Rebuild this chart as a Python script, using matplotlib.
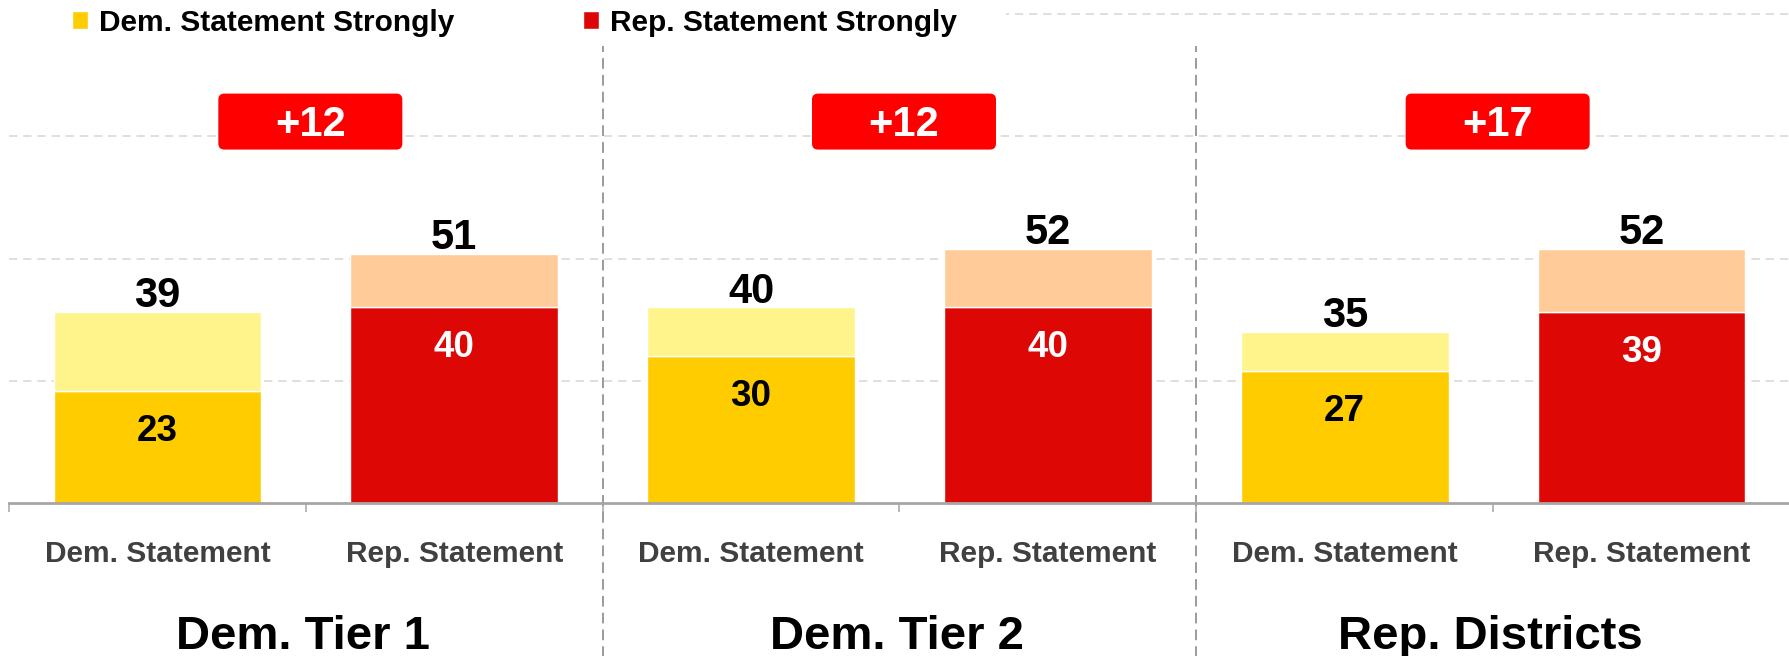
import matplotlib
matplotlib.use("Agg")
import matplotlib.pyplot as plt
import matplotlib.transforms as mtransforms
from matplotlib.patches import FancyBboxPatch, Rectangle
import numpy as np

plt.rcParams['font.family'] = ['Liberation Sans', 'DejaVu Sans']
plt.rcParams['font.weight'] = 'bold'

# ---- data ----
groups = ['Dem. Tier 1', 'Dem. Tier 2', 'Rep. Districts']
bar_labels = ['Dem. Statement', 'Rep. Statement']
dem_strong = [23, 30, 27]
dem_total = [39, 40, 35]
rep_strong = [40, 40, 39]
rep_total = [51, 52, 52]
legend_labels = ['Dem. Statement Strongly', 'Rep. Statement Strongly']
grid_values = [25, 50, 75, 100]

# ---- colours ----
c_dem_strong = '#FFCC00'
c_dem_light = '#FFF48C'
c_rep_strong = '#DD0806'
c_rep_light = '#FFCC99'
c_box = '#FF0000'
c_axis = '#A6A6A6'

W, H, DPI = 1790, 656, 100
fig = plt.figure(figsize=(W / DPI, H / DPI), dpi=DPI)
ax_left, ax_bottom_px, ax_top_px = 9, 503, 0
ax = fig.add_axes([ax_left / W, (H - ax_bottom_px) / H, (W - ax_left) / W, (ax_bottom_px - ax_top_px) / H])

px_per_unit = 4.89
ax.set_ylim(0, ax_bottom_px / px_per_unit)
ax.set_xlim(-0.5, 5.5)

n = len(groups)
x_dem = np.arange(n) * 2
x_rep = np.arange(n) * 2 + 1
bw = 0.70

dem_light = [t - s for t, s in zip(dem_total, dem_strong)]
rep_light = [t - s for t, s in zip(rep_total, rep_strong)]

b1 = ax.bar(x_dem, dem_strong, bw, color=c_dem_strong, edgecolor='white', linewidth=1, zorder=2,
            label=legend_labels[0])
ax.bar(x_dem, dem_light, bw, bottom=dem_strong, color=c_dem_light, edgecolor='white', linewidth=1, zorder=2)
b2 = ax.bar(x_rep, rep_strong, bw, color=c_rep_strong, edgecolor='white', linewidth=1, zorder=2,
            label=legend_labels[1])
ax.bar(x_rep, rep_light, bw, bottom=rep_strong, color=c_rep_light, edgecolor='white', linewidth=1, zorder=2)

# value labels
for xs, strong, total, inner_col in [(x_dem, dem_strong, dem_total, 'black'),
                                      (x_rep, rep_strong, rep_total, 'white')]:
    for x, s, t in zip(xs, strong, total):
        ax.annotate(f'{t}', xy=(x, t), xytext=(0, 3.5), textcoords='offset points',
                    ha='center', va='baseline', fontsize=30, fontweight='bold', color='black', zorder=5)
        ax.annotate(f'{s}', xy=(x, s), xytext=(0, -36), textcoords='offset points',
                    ha='center', va='baseline', fontsize=26.5, fontweight='bold', color=inner_col, zorder=5)

# difference boxes
box_w_px, box_h_px, box_center = 184, 56, 78.0
x_per_px = 1.0 / ((W - ax_left) / 6.0)
bw_u = box_w_px * x_per_px
bh_u = box_h_px / px_per_unit
aspect = (1 / px_per_unit) / x_per_px
box_shift = 4.5 * x_per_px
for i in range(n):
    diff = rep_total[i] - dem_total[i]
    xc = (x_dem[i] + x_rep[i]) / 2
    p = FancyBboxPatch((xc + box_shift - bw_u / 2, box_center - bh_u / 2), bw_u, bh_u,
                       boxstyle=f'round,pad=0,rounding_size={6 * x_per_px}',
                       mutation_aspect=aspect, facecolor=c_box, edgecolor='none', zorder=4)
    ax.add_patch(p)
    ax.annotate(f'+{diff}', xy=(xc + box_shift, box_center), xytext=(0, -10.6), textcoords='offset points',
                ha='center', va='baseline', fontsize=30, fontweight='bold', color='white', zorder=6)
    # group title
    ax.annotate(groups[i], xy=(xc, 0), xycoords=('data', 'axes fraction'),
                xytext=(-2, -105), textcoords='offset points', ha='center', va='baseline',
                fontsize=34, fontweight='bold', color='black', annotation_clip=False)

# gridlines
ax.set_yticks(grid_values)
ax.yaxis.grid(True, color='#D9D9D9', linestyle=(0, (5, 3.5)), linewidth=1.2)
ax.set_axisbelow(True)
ax.tick_params(axis='y', left=False, labelleft=False)

# x axis
ax.set_xticks(np.arange(2 * n))
ax.set_xticklabels(bar_labels * n, fontsize=21.5, fontweight='bold', color='#404040')
ax.tick_params(axis='x', which='major', length=0, pad=27)
ax.set_xticks(np.arange(-0.5, 2 * n, 1.0), minor=True)
ax.tick_params(axis='x', which='minor', length=6.5, width=1.1, color=c_axis, direction='out')

for s in ['top', 'right', 'left']:
    ax.spines[s].set_visible(False)
ax.spines['bottom'].set_color(c_axis)
ax.spines['bottom'].set_linewidth(2)
ax.spines['bottom'].set_zorder(3)

# group separators
trans = mtransforms.blended_transform_factory(ax.transData, ax.transAxes)
for i in range(1, n):
    xs = x_dem[i] - 0.5
    ax.plot([xs, xs], [-0.31, (ax_bottom_px - 46) / ax_bottom_px], transform=trans, clip_on=False,
            color='#808080', linestyle=(0, (7, 4)), linewidth=1.1, zorder=1)

# white cover under legend (hides top gridline on the left)
ax.add_patch(Rectangle(((0 - ax_left) / (W - ax_left), (ax_bottom_px - 40) / ax_bottom_px),
                       (1015 - ax_left) / (W - ax_left), 1.0, transform=ax.transAxes,
                       facecolor='white', edgecolor='none', zorder=1.5, clip_on=False))

leg = fig.legend(handles=[b1, b2], labels=legend_labels, loc='upper left',
                 bbox_to_anchor=(72 / W, 1 - 9 / H), ncol=2, frameon=False,
                 fontsize=21.5, handlelength=0.55, handleheight=0.55, handletextpad=0.35,
                 columnspacing=4.3, borderpad=0, borderaxespad=0)
for t in leg.get_texts():
    t.set_fontweight('bold')

fig.savefig('out.png', dpi=DPI)
